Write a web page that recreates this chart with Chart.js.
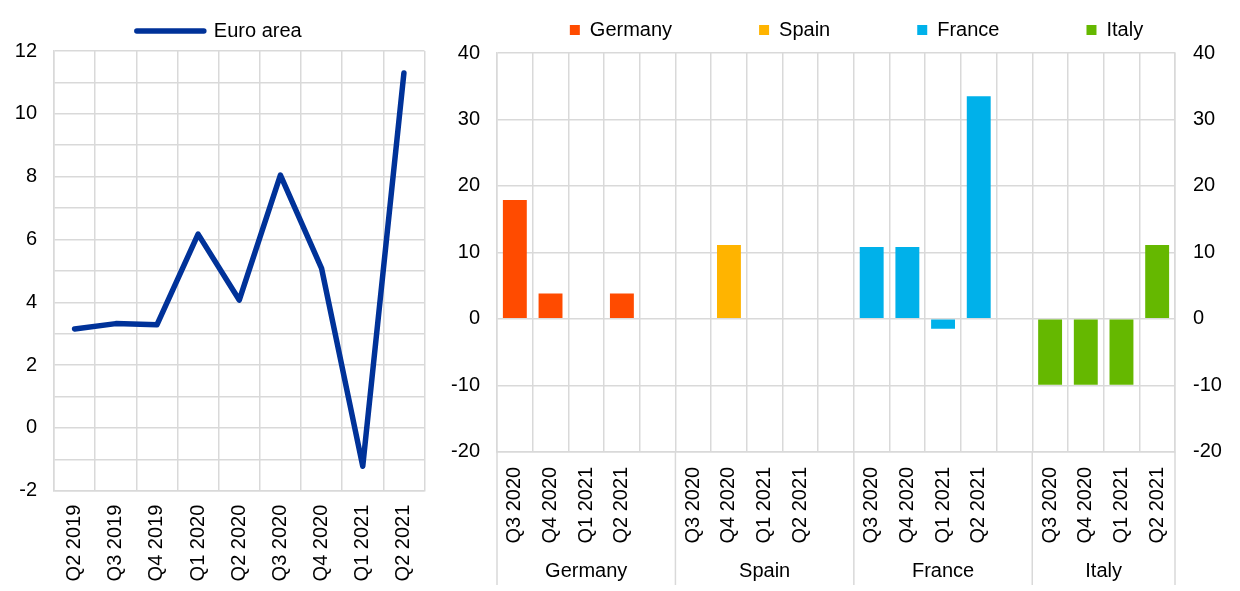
<!DOCTYPE html>
<html>
<head>
<meta charset="utf-8">
<script src="https://cdn.jsdelivr.net/npm/chart.js@4.4.1/dist/chart.umd.min.js"></script>
<style>
  body { margin: 0; background: #fff; }
  #wrap { position: relative; width: 1240px; height: 591px; }
  #euro { position: absolute; left: 0; top: 0; }
  #countries { position: absolute; left: 430px; top: 0; }
</style>
</head>
<body>
<div id="wrap">
  <canvas id="euro" width="430" height="591"></canvas>
  <canvas id="countries" width="810" height="591"></canvas>
</div>
<script>
// left panel: euro area
const euroQuarters = ['Q2 2019', 'Q3 2019', 'Q4 2019', 'Q1 2020', 'Q2 2020', 'Q3 2020', 'Q4 2020', 'Q1 2021', 'Q2 2021'];
const euroArea = [3.15, 3.32, 3.28, 6.17, 4.07, 8.05, 5.08, -1.22, 11.3];
const euroTicks = [-2, 0, 2, 4, 6, 8, 10, 12];

// right panel: countries
const quarters = ['Q3 2020', 'Q4 2020', 'Q1 2021', 'Q2 2021'];
const countries = ['Germany', 'Spain', 'France', 'Italy'];
const germany = [17.9, 3.8, null, 3.8];
const spain = [null, 11.1, null, null];
const france = [10.8, 10.8, -1.5, 33.5];
const italy = [-9.9, -9.9, -9.9, 11.1];
const countryTicks = [-20, -10, 0, 10, 20, 30, 40];
const countryColours = ['#ff4b00', '#ffb400', '#00b1ea', '#65b800'];

const GRID = '#d9d9d9';

Chart.defaults.font.family = '"Liberation Sans", Arial, sans-serif';
Chart.defaults.font.size = 20;
Chart.defaults.color = '#000';
Chart.defaults.animation = false;

// move the legend a bit without touching the layout
const legendNudge = {
  id: 'legendNudge',
  afterLayout(chart, args, opts) {
    chart.legend.left += opts.dx || 0;
    chart.legend.top += opts.dy || 0;
  }
};

// one slot per quarter, an empty slot between countries
const slotLabels = [];
const groupStart = [];
countries.forEach((c, i) => {
  groupStart.push(slotLabels.length);
  quarters.forEach(q => slotLabels.push(q));
  if (i < countries.length - 1) slotLabels.push('');
});

function spread(values, ci) {
  const out = slotLabels.map(() => null);
  values.forEach((v, k) => { out[groupStart[ci] + k] = v; });
  return out;
}

const countryValues = [germany, spain, france, italy];

const groupLabels = {
  id: 'groupLabels',
  afterDraw(chart) {
    const x = chart.scales.x;
    const ctx = chart.ctx;
    const n = slotLabels.length;
    const edge = i => i <= 0 ? x.left : i >= n ? x.right : (x.getPixelForValue(i - 1) + x.getPixelForValue(i)) / 2;
    const bottom = chart.height - 6;
    ctx.save();
    ctx.strokeStyle = GRID;
    ctx.lineWidth = 1.5;
    const edges = groupStart.concat([n]);
    edges.forEach(i => {
      const px = edge(i);
      ctx.beginPath();
      ctx.moveTo(px, chart.chartArea.bottom);
      ctx.lineTo(px, bottom);
      ctx.stroke();
    });
    ctx.fillStyle = '#000';
    ctx.font = '20px "Liberation Sans", Arial, sans-serif';
    ctx.textAlign = 'center';
    ctx.textBaseline = 'middle';
    countries.forEach((c, i) => {
      const a = edge(groupStart[i]);
      const b = edge(i < countries.length - 1 ? groupStart[i + 1] : n);
      ctx.fillText(c, (a + b) / 2, chart.height - 20);
    });
    ctx.restore();
  }
};

new Chart(document.getElementById('euro'), {
  type: 'line',
  data: {
    labels: euroQuarters,
    datasets: [{
      label: 'Euro area',
      data: euroArea,
      borderColor: '#003299',
      backgroundColor: '#003299',
      borderWidth: 5.5,
      borderCapStyle: 'round',
      borderJoinStyle: 'round',
      pointRadius: 0,
      tension: 0
    }]
  },
  plugins: [legendNudge],
  options: {
    responsive: false,
    layout: { padding: { top: 0, right: 5.5, bottom: 0, left: 0 } },
    plugins: {
      legend: {
        position: 'top',
        maxHeight: 55,
        labels: { boxWidth: 67, boxHeight: 0, padding: 21 }
      },
      legendNudge: { dx: 14, dy: 0 },
      tooltip: { enabled: false }
    },
    scales: {
      x: {
        offset: true,
        grid: { color: GRID, lineWidth: 1.5, offset: true, drawTicks: false },
        border: { color: GRID, width: 1.5 },
        ticks: { minRotation: 90, maxRotation: 90, autoSkip: false, padding: 14 },
        afterFit(scale) {
          scale.height = 100.3;
          scale.paddingLeft = 0;
          scale.paddingRight = 0;
        }
      },
      y: {
        min: euroTicks[0],
        max: euroTicks[euroTicks.length - 1],
        grid: { color: GRID, lineWidth: 1.5, drawTicks: false },
        border: { color: GRID, width: 1.5 },
        ticks: {
          stepSize: 1,
          padding: 17,
          callback: v => euroTicks.includes(v) ? String(v) : ''
        },
        afterFit(scale) { scale.width = 54; }
      }
    }
  }
});

new Chart(document.getElementById('countries'), {
  type: 'bar',
  data: {
    labels: slotLabels,
    datasets: countries.map((c, i) => ({
      label: c,
      data: spread(countryValues[i], i),
      backgroundColor: countryColours[i],
      borderWidth: 0,
      grouped: false,
      categoryPercentage: 1,
      barPercentage: 0.67
    }))
  },
  plugins: [legendNudge, groupLabels],
  options: {
    responsive: false,
    layout: { padding: 0 },
    plugins: {
      legend: {
        position: 'top',
        maxHeight: 53,
        labels: { boxWidth: 10, boxHeight: 10, padding: 87 }
      },
      legendNudge: { dx: 43, dy: -67 },
      tooltip: { enabled: false }
    },
    scales: {
      x: {
        grid: { color: GRID, lineWidth: 1.5, drawTicks: false },
        border: { color: GRID, width: 1.5 },
        ticks: { minRotation: 90, maxRotation: 90, autoSkip: false, padding: 15 },
        afterFit(scale) {
          scale.height = 139.2;
          scale.paddingLeft = 0;
          scale.paddingRight = 0;
        }
      },
      y: {
        position: 'left',
        min: countryTicks[0],
        max: countryTicks[countryTicks.length - 1],
        grid: { color: GRID, lineWidth: 1.5, drawTicks: false },
        border: { color: GRID, width: 1.5 },
        ticks: { stepSize: 10, padding: 17 },
        afterFit(scale) { scale.width = 67; }
      },
      y2: {
        position: 'right',
        min: countryTicks[0],
        max: countryTicks[countryTicks.length - 1],
        grid: { display: false, drawTicks: false },
        border: { color: GRID, width: 1.5 },
        ticks: { stepSize: 10, padding: 18 },
        afterFit(scale) { scale.width = 65; }
      }
    }
  }
});
</script>
</body>
</html>
